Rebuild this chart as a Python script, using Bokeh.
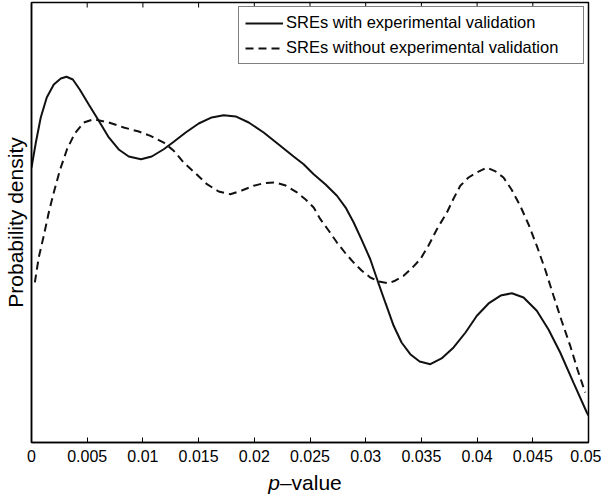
import math
from bokeh.plotting import figure
from bokeh.models import (Range1d, FixedTicker, Legend, LegendItem, Div)
from bokeh.layouts import column
from bokeh.embed import file_html
from bokeh.resources import INLINE

# ---- data ----
x_ticks = [0, 0.005, 0.01, 0.015, 0.02, 0.025, 0.03, 0.035, 0.04, 0.045, 0.05]
x_tick_labels = ["0", "0.005", "0.01", "0.015", "0.02", "0.025", "0.03", "0.035", "0.04", "0.045", "0.05"]

series_names = ["SREs with experimental validation", "SREs without experimental validation"]

with_x = [0.0, 0.00039, 0.00083, 0.00137, 0.00200, 0.00263, 0.00314, 0.00371, 0.00433, 0.00514,
          0.00604, 0.00694, 0.00783, 0.00873, 0.00983, 0.01079, 0.01187, 0.01277, 0.01384, 0.01501,
          0.01618, 0.01725, 0.01833, 0.01950, 0.02084, 0.02219, 0.02353, 0.02443, 0.02533, 0.02640,
          0.02742, 0.02820, 0.02892, 0.02963, 0.03041, 0.03107, 0.03179, 0.03251, 0.03322, 0.03400,
          0.03484, 0.03580, 0.03681, 0.03789, 0.03896, 0.03998, 0.04103, 0.04211, 0.04312, 0.04417,
          0.04536, 0.04641, 0.04746, 0.04865, 0.04985, 0.05]
with_y = [25.0, 27.27, 29.55, 31.36, 32.55, 33.09, 33.25, 33.0, 32.09, 30.73,
          29.25, 27.73, 26.64, 26.0, 25.75, 26.0, 26.66, 27.34, 28.18, 29.0,
          29.55, 29.75, 29.64, 29.09, 28.18, 27.09, 26.0, 25.3, 24.39, 23.45,
          22.43, 21.36, 20.0, 18.45, 16.66, 14.7, 12.64, 10.61, 9.09, 8.03,
          7.36, 7.12, 7.64, 8.64, 10.0, 11.52, 12.64, 13.36, 13.57, 13.18,
          11.97, 10.27, 8.18, 5.45, 2.73, 2.45]

without_x = [0.00030, 0.00065, 0.00110, 0.00155, 0.00200, 0.00254, 0.00319, 0.00388, 0.00469, 0.00559,
             0.00694, 0.00828, 0.00963, 0.01068, 0.01187, 0.01277, 0.01366, 0.01474, 0.01575, 0.01680,
             0.01785, 0.01887, 0.01994, 0.02093, 0.02189, 0.02282, 0.02383, 0.02461, 0.02533, 0.02593,
             0.02667, 0.02742, 0.02820, 0.02892, 0.02963, 0.03041, 0.03116, 0.03206, 0.03268, 0.03340,
             0.03412, 0.03490, 0.03564, 0.03639, 0.03729, 0.03789, 0.03849, 0.03923, 0.03998, 0.04088,
             0.04166, 0.04237, 0.04309, 0.04387, 0.04462, 0.04536, 0.04614, 0.04686, 0.04758, 0.04836,
             0.04901, 0.04970]
without_y = [14.55, 16.82, 18.79, 20.91, 22.73, 24.73, 26.66, 28.09, 29.09, 29.39,
             29.09, 28.64, 28.27, 27.88, 27.27, 26.52, 25.45, 24.45, 23.48, 22.82,
             22.57, 22.91, 23.34, 23.59, 23.64, 23.36, 22.73, 22.09, 21.36, 20.3,
             19.27, 18.18, 17.18, 16.36, 15.64, 15.0, 14.64, 14.48, 14.73, 15.15,
             15.82, 16.66, 17.91, 19.39, 20.91, 22.18, 23.34, 24.09, 24.55, 25.0,
             24.64, 24.09, 23.0, 21.52, 19.82, 17.88, 15.64, 13.34, 11.09, 8.79,
             6.64, 4.55]

FONT = "Liberation Sans"

p = figure(width=600, height=468, frame_width=557, frame_height=440,
           output_backend="svg", toolbar_location=None,
           x_range=Range1d(0, 0.05), y_range=Range1d(0, 40),
           min_border_left=30, min_border_right=13, min_border_top=2, min_border_bottom=26)

p.grid.visible = False
p.background_fill_color = "white"
p.border_fill_color = "white"
p.outline_line_color = "black"
p.outline_line_width = 1.5

# bottom x axis
xa = p.xaxis[0]
xa.ticker = FixedTicker(ticks=x_ticks)
xa.major_label_overrides = {t: s for t, s in zip(x_ticks, x_tick_labels)}
xa.major_tick_in = 5
xa.major_tick_out = 0
xa.minor_tick_line_color = None
xa.major_label_standoff = 7
xa.major_label_text_font = FONT
xa.major_label_text_font_size = "16px"
xa.major_label_text_color = "black"
xa.axis_line_width = 1.5
xa.axis_line_color = "black"
xa.major_tick_line_color = "black"
xa.major_tick_line_width = 1

# top inward ticks (box style), at the same tick positions
p.ray(x=x_ticks, y=[p.y_range.end] * len(x_ticks), length=5, length_units="screen",
      angle=-math.pi / 2, line_color="black", line_width=1)

# y axis (no ticks)
ya = p.yaxis[0]
ya.ticker = FixedTicker(ticks=[])
ya.major_tick_line_color = None
ya.minor_tick_line_color = None
ya.major_label_standoff = 0
ya.axis_line_width = 1.5
ya.axis_line_color = "black"
ya.axis_label = "Probability density"
ya.axis_label_text_font = FONT
ya.axis_label_text_font_size = "21px"
ya.axis_label_text_font_style = "normal"
ya.axis_label_text_color = "black"
ya.axis_label_standoff = 5

r1 = p.line(with_x, with_y, line_color="#111111", line_width=2)
r2 = p.line(without_x, without_y, line_color="#111111", line_width=2, line_dash="8 5")

legend = Legend(items=[LegendItem(label=series_names[0], renderers=[r1]),
                       LegendItem(label=series_names[1], renderers=[r2])],
                location="top_right", margin=4, padding=6, spacing=6,
                glyph_width=38, glyph_height=16, label_height=16, label_standoff=3,
                label_width=291,
                label_text_font=FONT, label_text_font_size="16.5px", label_text_color="black",
                border_line_color="black", border_line_width=1,
                background_fill_color="white", background_fill_alpha=1.0)
p.add_layout(legend, "center")

xlabel = Div(text=("<div style=\"width:584px;padding-left:16px;text-align:center;"
                   "font-family:'Liberation Sans';font-size:21px;line-height:20px;"
                   "color:black;white-space:nowrap\"><i>p</i>&ndash;value</div>"),
             width=600, height=17)

layout = column(p, xlabel, spacing=0)
open("out.html", "w").write(file_html(layout, INLINE))
